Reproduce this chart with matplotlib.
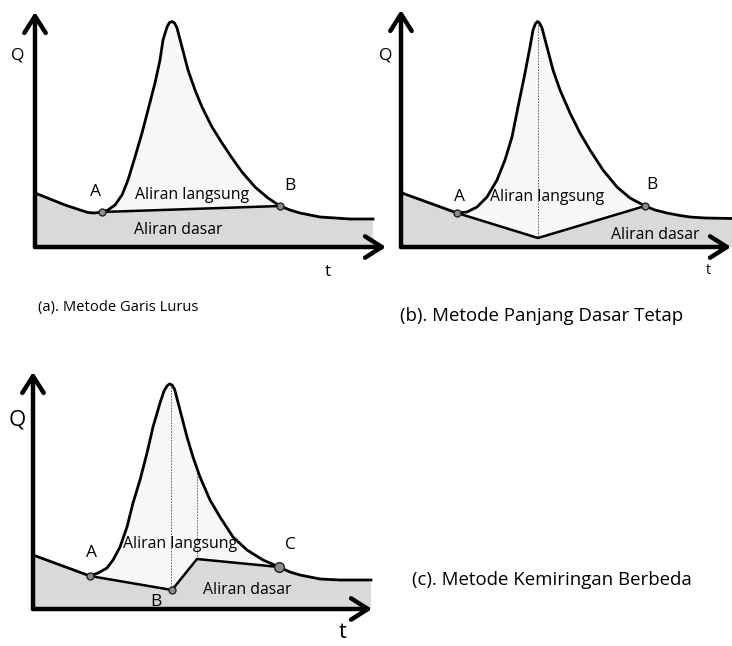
import numpy as np
import matplotlib.pyplot as plt

plt.rcParams['font.family'] = ['Open Sans', 'DejaVu Sans']

# ---- panel (a): Metode Garis Lurus (image pixel coords, y down)
a_rec_x = [35, 50, 65, 80, 88, 94, 102]
a_rec_y = [193, 199, 205, 210, 212.5, 213, 212]
a_hyd_x = [102, 108, 115, 122, 128, 135, 142, 148, 155, 160, 163, 167, 169.5, 172,
           174.5, 177, 182, 188, 195, 202, 212, 222, 232, 242, 255, 268, 280]
a_hyd_y = [212, 210, 205, 195, 180, 157, 133, 110, 83, 60, 40, 27, 22.5, 21.5,
           23, 28, 47, 70, 90, 107, 127, 143, 158, 172, 187, 198, 206]
a_tail_x = [280, 290, 300, 310, 320, 335, 350, 373]
a_tail_y = [206, 210, 213, 215, 217, 218, 219, 219]
a_base_x = [102, 280]
a_base_y = [212, 206]

# ---- panel (b): Metode Panjang Dasar Tetap
b_rec_x = [402, 457]
b_rec_y = [193, 213]
b_hyd_x = [457, 467, 477, 487, 497, 505, 512, 518, 525, 530, 533, 535.5, 537.5,
           539.5, 542, 547, 553, 560, 570, 580, 590, 603, 617, 630, 645]
b_hyd_y = [213, 212, 207, 197, 180, 160, 137, 107, 73, 47, 30, 23.5, 21.5,
           23, 28, 47, 70, 90, 113, 133, 150, 170, 187, 198, 206]
b_tail_x = [645, 655, 667, 680, 690, 705, 732]
b_tail_y = [206, 210, 213, 215.5, 217, 218, 218.5]
b_base_x = [457, 538, 645]
b_base_y = [213, 238, 206]

# ---- panel (c): Metode Kemiringan Berbeda
c_rec_x = [33, 90]
c_rec_y = [555, 576]
c_hyd_x = [90, 98, 107, 113, 120, 127, 133, 140, 147, 153, 160, 164, 167, 169.5,
           172, 174.5, 180, 187, 193, 200, 210, 220, 233, 247, 263, 279]
c_hyd_y = [576, 573, 568, 560, 547, 527, 503, 480, 453, 427, 403, 391, 386, 384,
           385, 389, 410, 437, 457, 477, 500, 517, 537, 550, 560, 567]
c_tail_x = [279, 290, 300, 320, 340, 371]
c_tail_y = [567, 572, 575, 579, 580, 580]
c_base_x = [90, 172, 197, 279]
c_base_y = [576, 590, 559, 567]

DIRECT = '#f7f7f7'
BASE = '#d9d9d9'


def draw_panel(ax, rec, hyd, tail, base, axis_y, x0, fill_end, dashes, pts, psize):
    rx, ry = rec
    hx, hy = hyd
    tx, ty = tail
    bx, by = base
    # base flow area
    top_x = list(rx) + list(bx[1:]) + list(tx[1:])
    top_y = list(ry) + list(by[1:]) + list(ty[1:])
    top_x = [x for x in top_x if x <= fill_end]
    top_y = top_y[:len(top_x)]
    poly_x = top_x + [top_x[-1], x0]
    poly_y = top_y + [axis_y, axis_y]
    ax.fill(poly_x, poly_y, color=BASE, lw=0, zorder=1)
    # direct runoff area
    ax.fill(list(hx) + list(bx[::-1]), list(hy) + list(by[::-1]),
            color=DIRECT, lw=0, zorder=1)
    for (dx, dy0, dy1) in dashes:
        ax.plot([dx, dx], [dy0, dy1], color='#555555', lw=0.6, ls=(0, (2, 1.5)), zorder=2)
    ax.plot(bx, by, color='black', lw=1.8, zorder=3)
    ax.plot(list(rx) + list(hx[1:]) + list(tx[1:]), list(ry) + list(hy[1:]) + list(ty[1:]),
            color='black', lw=2, solid_joinstyle='round', zorder=3)
    for (px, py) in pts:
        ax.plot(px, py, 'o', ms=psize, mfc='#8c8c8c', mec='#222222', mew=1, zorder=4)


def draw_axes(ax, origin, top, right):
    for tip in (top, right):
        ax.annotate('', xy=tip, xytext=origin,
                    arrowprops=dict(arrowstyle='->,head_length=0.55,head_width=0.35',
                                    lw=3.2, color='black', shrinkA=0, shrinkB=0,
                                    mutation_scale=22), zorder=5)


fig = plt.figure(figsize=(7.32, 6.46), dpi=100)
ax = fig.add_axes([0, 0, 1, 1])
ax.set_xlim(0, 732)
ax.set_ylim(646, 0)
ax.axis('off')

LBL = 11.4

# (a)
draw_panel(ax, (a_rec_x, a_rec_y), (a_hyd_x, a_hyd_y), (a_tail_x, a_tail_y),
           (a_base_x, a_base_y), 247, 35, 373, [],
           [(a_base_x[0], a_base_y[0]), (a_base_x[-1], a_base_y[-1])], 5)
draw_axes(ax, (35, 247), (35, 12), (386, 247))
ax.text(18, 55, 'Q', fontsize=12.5, ha='center', va='center')
ax.text(328, 272, 't', fontsize=12.5, ha='center', va='center')
ax.text(96, 192, 'A', fontsize=12.5, ha='center', va='center')
ax.text(290, 186, 'B', fontsize=12.5, ha='center', va='center')
ax.text(192, 195, 'Aliran langsung', fontsize=LBL, ha='center', va='center')
ax.text(178, 230, 'Aliran dasar', fontsize=LBL, ha='center', va='center')
ax.text(38, 307, '(a). Metode Garis Lurus', fontsize=10.6, ha='left', va='center')

# (b)
draw_panel(ax, (b_rec_x, b_rec_y), (b_hyd_x, b_hyd_y), (b_tail_x, b_tail_y),
           (b_base_x, b_base_y), 247, 401, 732, [(538, 22, 238)],
           [(b_base_x[0], b_base_y[0]), (b_base_x[-1], b_base_y[-1])], 5)
draw_axes(ax, (401, 247), (401, 10), (731, 247))
ax.text(386, 55, 'Q', fontsize=12.5, ha='center', va='center')
ax.text(708, 270, 't', fontsize=10, ha='center', va='center')
ax.text(459, 197, 'A', fontsize=12.5, ha='center', va='center')
ax.text(652, 185, 'B', fontsize=12.5, ha='center', va='center')
ax.text(547, 197, 'Aliran langsung', fontsize=LBL, ha='center', va='center')
ax.text(655, 235, 'Aliran dasar', fontsize=LBL, ha='center', va='center')
ax.text(400, 316, '(b). Metode Panjang Dasar Tetap', fontsize=13.4, ha='left', va='center')

# (c)
draw_panel(ax, (c_rec_x, c_rec_y), (c_hyd_x, c_hyd_y), (c_tail_x, c_tail_y),
           (c_base_x, c_base_y), 609, 33, 371, [(171, 384, 589), (197, 467, 559)],
           [(c_base_x[0], c_base_y[0]), (c_base_x[1], c_base_y[1])], 5)
ax.plot(c_base_x[-1], c_base_y[-1], 'o', ms=7, mfc='#8c8c8c', mec='#222222', mew=1, zorder=4)
draw_axes(ax, (33, 609), (33, 372), (372, 609))
ax.text(17, 420, 'Q', fontsize=16, ha='center', va='center')
ax.text(343, 633, 't', fontsize=16, ha='center', va='center')
ax.text(92, 553, 'A', fontsize=12.5, ha='center', va='center')
ax.text(290, 545, 'C', fontsize=12.5, ha='center', va='center')
ax.text(156, 602, 'B', fontsize=12.5, ha='center', va='center')
ax.text(180, 544, 'Aliran langsung', fontsize=LBL, ha='center', va='center')
ax.text(247, 590, 'Aliran dasar', fontsize=LBL, ha='center', va='center')
ax.text(412, 580, '(c). Metode Kemiringan Berbeda', fontsize=13.4, ha='left', va='center')

fig.savefig('out.png', dpi=100)
